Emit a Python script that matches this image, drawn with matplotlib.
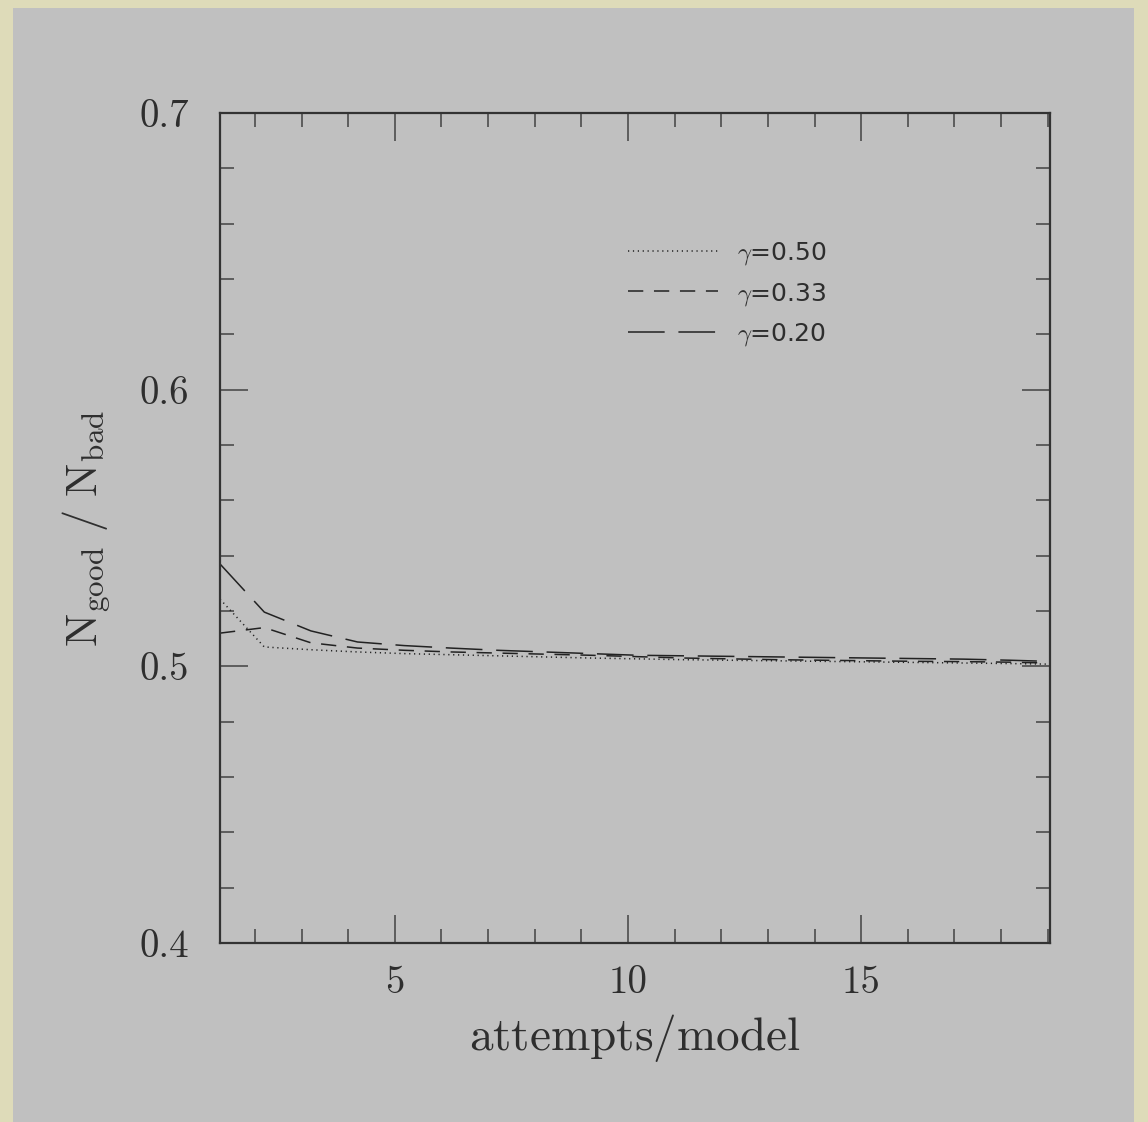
import numpy as np
import matplotlib
matplotlib.use("Agg")
import matplotlib.pyplot as plt
from matplotlib.patches import Rectangle
from matplotlib.ticker import MultipleLocator

plt.rcParams['mathtext.fontset'] = 'cm'
plt.rcParams['axes.formatter.use_mathtext'] = True

# data
attempts = [1.25, 2.2, 3.2, 4.2, 5.2, 6.2, 7.2, 8.2, 9.2, 10.2,
            11.2, 12.2, 13.2, 14.2, 15.2, 16.2, 17.2, 18.2, 19.0]
ratio_050 = [0.5243, 0.5070, 0.5060, 0.5052, 0.5046, 0.5042, 0.5038, 0.5034, 0.5030, 0.5027,
             0.5024, 0.5022, 0.5020, 0.5018, 0.5016, 0.5014, 0.5012, 0.5010, 0.5008]
ratio_033 = [0.5120, 0.5140, 0.5085, 0.5066, 0.5058, 0.5052, 0.5048, 0.5044, 0.5040, 0.5035,
             0.5030, 0.5027, 0.5024, 0.5022, 0.5020, 0.5018, 0.5017, 0.5015, 0.5012]
ratio_020 = [0.5370, 0.5196, 0.5128, 0.5088, 0.5075, 0.5066, 0.5058, 0.5052, 0.5046, 0.5040,
             0.5038, 0.5036, 0.5034, 0.5032, 0.5030, 0.5028, 0.5026, 0.5022, 0.5018]
labels = [r'$\gamma$=0.50', r'$\gamma$=0.33', r'$\gamma$=0.20']

fig = plt.figure(figsize=(11.48, 11.22), dpi=100)
fig.patch.set_facecolor('#dedbb9')
# grey panel behind the axes
panel = Rectangle((13 / 1148, 0), (1134 - 13) / 1148, 1 - 8 / 1122,
                  transform=fig.transFigure, facecolor='#c0c0c0',
                  edgecolor='none', zorder=-10)
fig.add_artist(panel)

ax = fig.add_axes([220 / 1148, 1 - 943 / 1122, 830 / 1148, 830 / 1122])
ax.set_zorder(1)
ax.set_facecolor('#c0c0c0')

ink = '#222222'
txt = '#2e2e2e'
ax.plot(attempts, ratio_050, color=ink, lw=1.1, dashes=(0.8, 2.4), label=labels[0])
ax.plot(attempts, ratio_033, color=ink, lw=1.1, dashes=(10, 7), label=labels[1])
ax.plot(attempts, ratio_020, color=ink, lw=1.1, dashes=(24, 9), label=labels[2])

ax.set_xlim(1.25, 19.05)
ax.set_ylim(0.4, 0.7)
ax.xaxis.set_major_locator(MultipleLocator(5))
ax.xaxis.set_minor_locator(MultipleLocator(1))
ax.yaxis.set_major_locator(MultipleLocator(0.1))
ax.yaxis.set_minor_locator(MultipleLocator(0.02))
ax.xaxis.set_major_formatter(lambda v, p: f'{v:g}')
ax.yaxis.set_major_formatter(lambda v, p: f'{v:.1f}')

ax.tick_params(which='both', direction='in', top=True, right=True, color='#555555', width=1.3)
ax.tick_params(which='major', length=20, pad=16, labelsize=28, labelcolor=txt)
ax.tick_params(which='minor', length=10)
ax.tick_params(axis='y', which='major', pad=22)
for lab in ax.get_xticklabels() + ax.get_yticklabels():
    lab.set_family('cmr10')
for s in ax.spines.values():
    s.set_color('#333333')
    s.set_linewidth(1.6)

ax.set_xlabel(r'$\mathrm{attempts/model}$', fontsize=34, color=txt, labelpad=8)
ax.set_ylabel(r'$\mathrm{N_{good}\ /\ N_{bad}}$', fontsize=32, color=txt, labelpad=20)

ax.legend(loc='upper left', bbox_to_anchor=(0.4916, 0.847), frameon=False,
          borderpad=0, borderaxespad=0, handlelength=3.6, handletextpad=0.75,
          labelspacing=0.55, prop={'family': 'DejaVu Sans', 'size': 18}, labelcolor=txt)

fig.savefig('out.png', dpi=100, facecolor=fig.get_facecolor())
